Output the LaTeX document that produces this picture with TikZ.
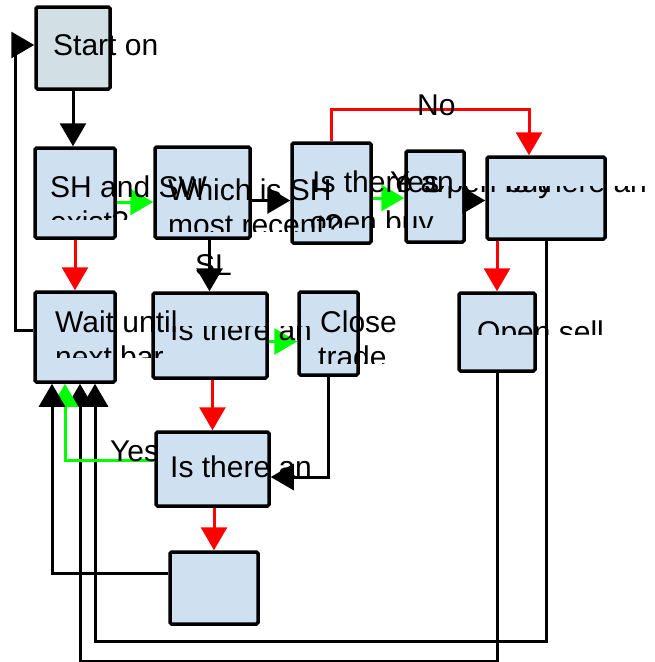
\documentclass[tikz,border=0pt]{standalone}
\usepackage{fontspec}
\setmainfont{Liberation Sans}
\usepackage{tikz}
\usetikzlibrary{arrows.meta,calc,positioning}

\definecolor{boxblue}{HTML}{CFE0F1}
\definecolor{startgray}{HTML}{D2DFE4}
\definecolor{nored}{HTML}{FF0000}
\definecolor{yesgreen}{HTML}{00FF00}

\tikzset{
    box/.style={draw, line width=3.5pt, fill=boxblue, rounded corners=1.5pt, inner sep=0pt},
    txt/.style={anchor=base west, inner sep=0pt, font=\fontsize{30}{36}\selectfont},
    flow/.style={line width=3pt, -{Triangle[length=23pt,width=26pt]}},
}

\begin{document}
\begin{tikzpicture}[x=1pt,y=-1pt]
    \useasboundingbox (0,0) rectangle (654,662);
    % boxes
    \node[box, fill=startgray, minimum width=74, minimum height=82] (start) at (73,48) {};
    \node[box, minimum width=80, minimum height=90] (sh) at (75,193) {};
    \node[box, minimum width=95, minimum height=91] (which) at (202.5,192.5) {};
    \node[box, minimum width=79, minimum height=100] (isbuy) at (331.5,193) {};
    \node[box, minimum width=58, minimum height=91] (buy) at (435,196.5) {};
    \node[box, minimum width=118, minimum height=82] (issell) at (546,198) {};
    \node[box, minimum width=80, minimum height=90] (wait) at (75,337) {};
    \node[box, minimum width=114, minimum height=85] (issl) at (210,335.5) {};
    \node[box, minimum width=59, minimum height=83] (close) at (328.5,333.5) {};
    \node[box, minimum width=113, minimum height=74] (isexit) at (212.5,469) {};
    \node[box, minimum width=88, minimum height=72] (blank) at (214,588) {};
    \node[box, minimum width=76, minimum height=78] (sell) at (497,332) {};
    % connectors
    \draw[flow] (start.south) -- (start.south |- sh.north);
    \draw[flow, yesgreen] ([yshift=-9pt]sh.east) -- ([yshift=-9pt]sh.east -| which.west);
    \draw[flow] ([yshift=-8pt]which.east) -- ([yshift=-8pt]which.east -| isbuy.west);
    \draw[flow] ([xshift=7pt]which.south) -- ([xshift=7pt]which.south |- issl.north);
    \coordinate (nobend) at (437,109);
    \draw[flow, nored] (isbuy.north) |- (nobend) -| ([xshift=-17pt]issell.north);
    \draw[flow, yesgreen] ([yshift=-5pt]isbuy.east) -- ([yshift=-5pt]isbuy.east -| buy.west);
    \draw[flow] ([yshift=-4pt]buy.east) -- ([yshift=-4pt]buy.east -| issell.west);
    \draw[flow, nored] (sell.north |- issell.south) -- (sell.north);
    \draw[flow] (issell.south) -- ++(0,401) -| ([xshift=20pt]wait.south);
    \draw[flow] (sell.south) -- ++(0,289) -| ([xshift=5pt]wait.south);
    \draw[flow, nored] (sh.south) -- (wait.north);
    \draw[flow] ([yshift=7pt]wait.west) -- ++(-18,0) |- ([yshift=3pt]start.west);
    \draw[flow, yesgreen] ([yshift=-6pt]issl.east) -- ([yshift=-6pt]issl.east -| close.west);
    \draw[flow] (close.south) |- ([yshift=-8pt]isexit.east);
    \draw[flow, nored] (issl.south -| isexit.north) -- (isexit.north);
    \draw[flow, yesgreen] ([yshift=9pt]isexit.west) -| ([xshift=-10pt]wait.south);
    \draw[flow, nored] (isexit.south -| blank.north) -- (blank.north);
    \draw[flow] ([yshift=15pt]blank.west) -| ([xshift=-23pt]wait.south);
    % texts
    \node[txt] (starttxt) at (53,55) {Start on};
    \node[txt] (shtxt) at (50,197) {SH and SW};
    \begin{scope}
        \clip (0,150) rectangle (654,219);
        \node[txt] (shtxtb) at (50,232) {exist?};
    \end{scope}
    \node[txt] (whichtxt) at (168,200) {Which is SH};
    \begin{scope}
        \clip (0,150) rectangle (654,231);
        \node[txt] (whichtxtb) at (168,235) {most recent?};
    \end{scope}
    \node[txt] (isbuytxt) at (312,192) {Is there an};
    \begin{scope}
        \clip (0,150) rectangle (654,227);
        \node[txt] (isbuytxtb) at (310,232) {open buy};
    \end{scope}
    \node[txt] (yesbuy) at (390,192) {Yes};
    \begin{scope}
        \clip (0,186) rectangle (654,240);
        \node[txt] (buytxt) at (423,192) {Open buy};
        \node[txt] (isselltxt) at (505,192) {Is there an};
    \end{scope}
    \node[txt] (notxt) at (417,115) {No};
    \node[txt] (sltxt) at (195,275) {SL};
    \node[txt] (waittxt) at (55,332) {Wait until};
    \begin{scope}
        \clip (0,300) rectangle (654,357);
        \node[txt] (waittxtb) at (55,367) {next bar};
    \end{scope}
    \begin{scope}
        \clip (0,326) rectangle (654,380);
        \node[txt] (issltxt) at (170,340) {Is there an};
    \end{scope}
    \node[txt] (closetxt) at (320,332) {Close};
    \begin{scope}
        \clip (0,300) rectangle (654,363);
        \node[txt] (closetxtb) at (318,367) {trade};
    \end{scope}
    \begin{scope}
        \clip (0,300) rectangle (654,334);
        \node[txt] (selltxt) at (477,342) {Open sell};
    \end{scope}
    \node[txt] (isexittxt) at (170,477) {Is there an};
    \node[txt] (yesexit) at (110,461) {Yes};
\end{tikzpicture}
\end{document}
